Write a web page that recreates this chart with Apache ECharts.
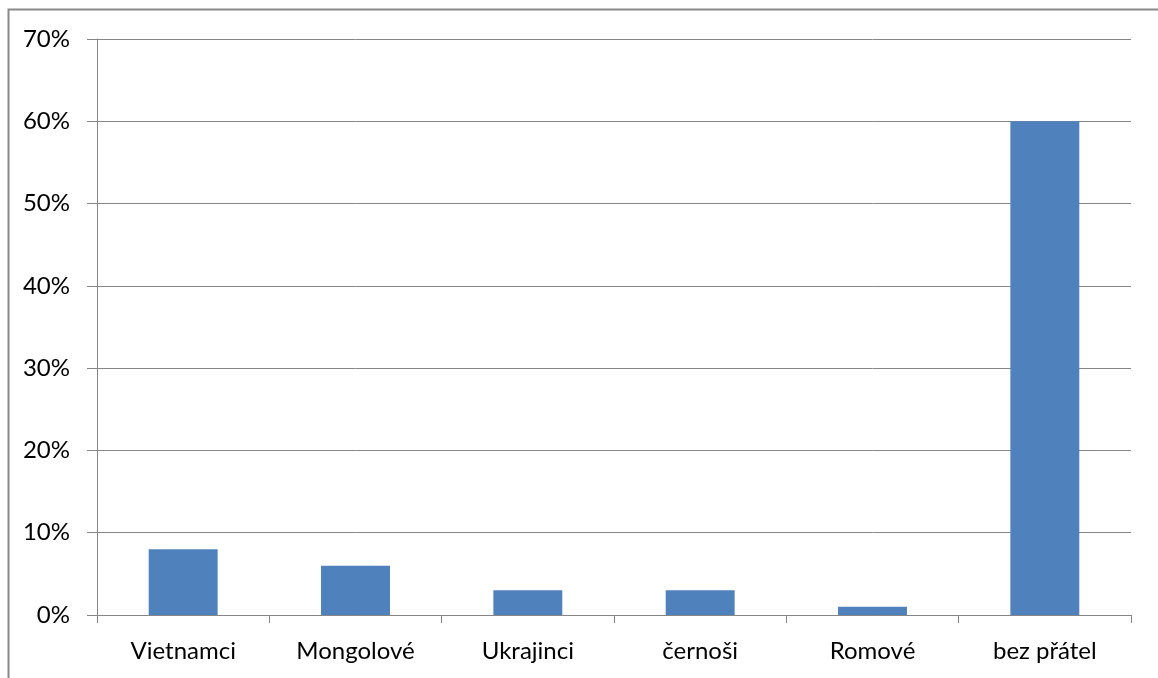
<!DOCTYPE html>
<html>
<head>
<meta charset="utf-8">
<script src="https://cdn.jsdelivr.net/npm/echarts@6/dist/echarts.min.js"></script>
<style>
  html, body { margin: 0; padding: 0; background: #fff; }
  #chart { width: 1158px; height: 678px; }
</style>
</head>
<body>
<div id="chart"></div>
<script>
var categories = ['Vietnamci', 'Mongolové', 'Ukrajinci', 'černoši', 'Romové', 'bez přátel'];
var values = [8, 6, 3, 3, 1, 60];
var yTicks = [0, 10, 20, 30, 40, 50, 60, 70];

var myChart = echarts.init(document.getElementById('chart'));
var option;

option = {
  animation: false,
  textStyle: { fontFamily: 'Lato' },
  graphic: [
    {
      type: 'rect',
      shape: { x: 8.5, y: 9.5, width: 1200, height: 700 },
      style: { fill: 'none', stroke: '#898989', lineWidth: 2 },
      silent: true
    }
  ],
  grid: { left: 97, right: 27, top: 39, bottom: 63, containLabel: false },
  xAxis: {
    type: 'category',
    data: categories,
    axisLine: { lineStyle: { color: '#868686', width: 1 } },
    axisTick: { show: true, alignWithLabel: false, length: 8, lineStyle: { color: '#868686' } },
    axisLabel: { color: '#000', fontSize: 24, margin: 24 }
  },
  yAxis: {
    type: 'value',
    min: yTicks[0],
    max: yTicks[yTicks.length - 1],
    interval: 10,
    axisLine: { show: true, lineStyle: { color: '#868686', width: 1 } },
    axisTick: { show: true, length: 10, lineStyle: { color: '#868686' } },
    axisLabel: { color: '#000', fontSize: 24, margin: 27, formatter: '{value}%' },
    splitLine: { lineStyle: { color: '#868686', width: 1 } }
  },
  series: [
    {
      type: 'bar',
      data: values,
      barCategoryGap: '60%',
      itemStyle: { color: '#4F81BD' }
    }
  ]
};

option && myChart.setOption(option);
</script>
</body>
</html>
